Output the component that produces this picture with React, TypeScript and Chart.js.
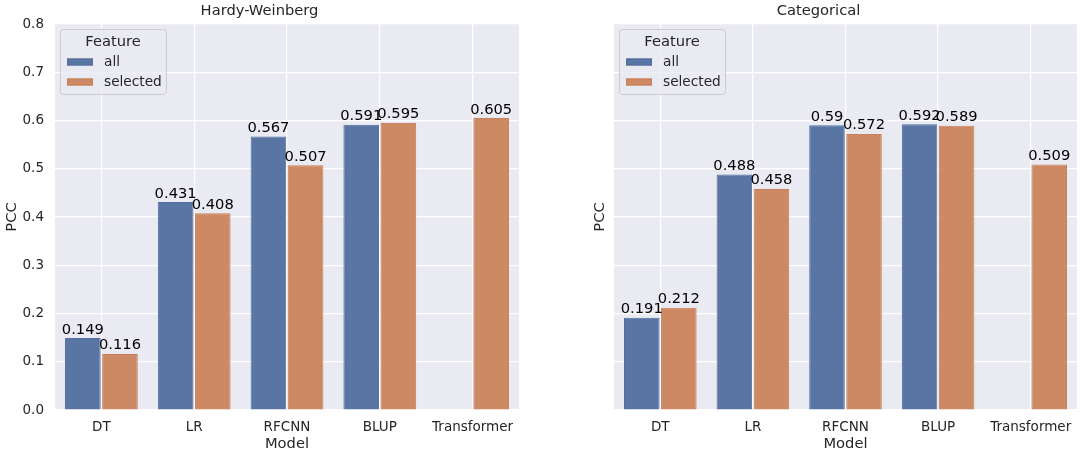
import { useEffect, useRef } from 'react';
import { Chart, registerables } from 'chart.js';

Chart.register(...registerables);

const models = ['DT', 'LR', 'RFCNN', 'BLUP', 'Transformer'];
const features = ['all', 'selected'];
const hwAll = [0.149, 0.431, 0.567, 0.591, null];
const hwSelected = [0.116, 0.408, 0.507, 0.595, 0.605];
const catAll = [0.191, 0.488, 0.59, 0.592, null];
const catSelected = [0.212, 0.458, 0.572, 0.589, 0.509];

const FONT = "'DejaVu Sans', sans-serif";
const TICK_SIZE = 13.5;
const LABEL_SIZE = 14.7;
const TEXT = '#262626';
const BLUE = '#5975a4';
const ORANGE = '#cc8963';
const BLUE_EDGE = '#52709f';
const ORANGE_EDGE = '#c7815a';
const BG = '#eaeaf2';

// grey panel behind the plot area
const panelBg = {
  id: 'panelBg',
  beforeDraw(chart: Chart) {
    const { ctx, chartArea: a } = chart;
    ctx.save();
    ctx.fillStyle = BG;
    ctx.fillRect(a.left, a.top, a.right - a.left, a.bottom - a.top);
    ctx.restore();
  },
};

// value labels above each bar
const barValues = {
  id: 'barValues',
  afterDatasetsDraw(chart: Chart) {
    const { ctx } = chart;
    ctx.save();
    ctx.font = `${LABEL_SIZE}px ${FONT}`;
    ctx.fillStyle = '#000';
    ctx.textAlign = 'center';
    ctx.textBaseline = 'bottom';
    chart.data.datasets.forEach((ds, i) => {
      const meta = chart.getDatasetMeta(i);
      meta.data.forEach((bar: any, j) => {
        const v = ds.data[j] as number | null;
        if (v == null) return;
        ctx.fillText(String(v), bar.x, bar.y - 1);
      });
    });
    ctx.restore();
  },
};

// seaborn-like legend box inside the axes
const featureLegend = {
  id: 'featureLegend',
  afterDraw(chart: Chart) {
    const { ctx, chartArea: a } = chart;
    const x = a.left + 5;
    const y = a.top + 5;
    const w = 106;
    const h = 65;
    ctx.save();
    ctx.fillStyle = 'rgba(234,234,242,0.8)';
    ctx.strokeStyle = '#cccccc';
    ctx.lineWidth = 1;
    ctx.beginPath();
    ctx.roundRect(x + 0.5, y + 0.5, w, h, 3);
    ctx.fill();
    ctx.stroke();
    ctx.font = `${LABEL_SIZE}px ${FONT}`;
    ctx.fillStyle = TEXT;
    ctx.textAlign = 'center';
    ctx.textBaseline = 'middle';
    ctx.fillText('Feature', x + w / 2, y + 13);
    ctx.textAlign = 'left';
    ctx.font = `13.7px ${FONT}`;
    chart.data.datasets.forEach((ds, i) => {
      const ry = y + 33 + i * 20;
      ctx.fillStyle = ds.backgroundColor as string;
      ctx.strokeStyle = ds.borderColor as string;
      ctx.fillRect(x + 7, ry - 3.5, 26, 7);
      ctx.strokeRect(x + 7.5, ry - 3, 25, 6);
      ctx.fillStyle = TEXT;
      ctx.fillText(String(ds.label), x + 44, ry);
    });
    ctx.restore();
  },
};

interface PanelProps {
  title: string;
  all: (number | null)[];
  selected: (number | null)[];
  showTicks: boolean;
  yWidth: number;
  titlePad: number;
  padRight: number;
}

function Panel({ title, all, selected, showTicks, yWidth, titlePad, padRight }: PanelProps) {
  const canvasRef = useRef<HTMLCanvasElement>(null);
  const chartInstance = useRef<Chart | null>(null);

  useEffect(() => {
    if (!canvasRef.current) return;
    if (chartInstance.current) chartInstance.current.destroy();

    chartInstance.current = new Chart(canvasRef.current, {
      type: 'bar',
      data: {
        labels: models,
        datasets: [
          {
            label: features[0],
            data: all,
            backgroundColor: BLUE,
            borderColor: BLUE_EDGE,
            borderWidth: 1,
            categoryPercentage: 0.8,
            barPercentage: 0.96,
          },
          {
            label: features[1],
            data: selected,
            backgroundColor: ORANGE,
            borderColor: ORANGE_EDGE,
            borderWidth: 1,
            categoryPercentage: 0.8,
            barPercentage: 0.96,
          },
        ],
      },
      options: {
        responsive: true,
        maintainAspectRatio: false,
        animation: false,
        layout: { padding: { left: 0, right: padRight, top: 0, bottom: 0 } },
        plugins: {
          legend: { display: false },
          tooltip: { enabled: false },
          title: {
            display: true,
            text: title,
            color: TEXT,
            font: { family: FONT, size: LABEL_SIZE, weight: 'normal' },
            padding: { top: 2.7, bottom: 3.66 },
          },
        },
        scales: {
          x: {
            offset: true,
            grid: { color: '#ffffff', lineWidth: 1.2, offset: false, drawTicks: false },
            border: { display: false },
            ticks: { color: TEXT, font: { family: FONT, size: TICK_SIZE }, padding: 9, maxRotation: 0 },
            title: {
              display: true,
              text: 'Model',
              color: TEXT,
              font: { family: FONT, size: LABEL_SIZE },
              padding: { top: 0, bottom: 3.2 },
            },
            afterFit: (scale: any) => {
              scale.height = 46;
            },
          },
          y: {
            min: 0,
            max: 0.8,
            grid: { color: '#ffffff', lineWidth: 1.2, drawTicks: false },
            border: { display: false },
            ticks: {
              display: showTicks,
              stepSize: 0.1,
              color: TEXT,
              font: { family: FONT, size: TICK_SIZE },
              padding: 11,
              callback: (v) => Number(v).toFixed(1),
            },
            title: {
              display: true,
              text: 'PCC',
              color: TEXT,
              font: { family: FONT, size: LABEL_SIZE },
              padding: { top: titlePad, bottom: 0 },
            },
            afterFit: (scale: any) => {
              scale.width = yWidth;
            },
          },
        },
      },
      plugins: [panelBg, barValues, featureLegend],
    });

    return () => {
      if (chartInstance.current) {
        chartInstance.current.destroy();
        chartInstance.current = null;
      }
    };
  }, [title, all, selected, showTicks, yWidth, titlePad, padRight]);

  return <canvas ref={canvasRef}></canvas>;
}

export default function App() {
  return (
    <div style={{ position: 'absolute', left: 0, top: 0, width: 1084, height: 456, background: '#fff' }}>
      <div style={{ position: 'absolute', left: 0, top: 0, width: 542, height: 456 }}>
        <Panel title="Hardy-Weinberg" all={hwAll} selected={hwSelected} showTicks={true} yWidth={55} titlePad={3.2} padRight={23} />
      </div>
      <div style={{ position: 'absolute', left: 560, top: 0, width: 524, height: 456 }}>
        <Panel title="Categorical" all={catAll} selected={catSelected} showTicks={false} yWidth={54} titlePad={31.2} padRight={7} />
      </div>
    </div>
  );
}
